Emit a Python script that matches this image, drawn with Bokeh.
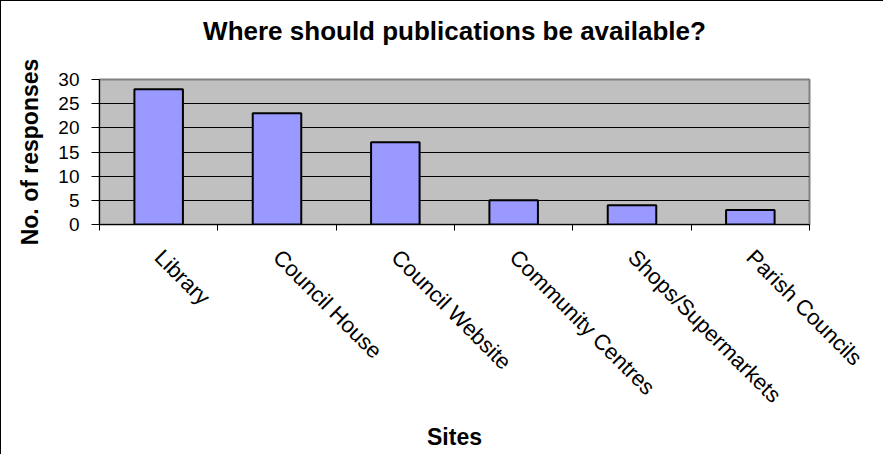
import math
from bokeh.plotting import figure
from bokeh.models import Range1d, FixedTicker, LinearAxis
from bokeh.embed import file_html
from bokeh.resources import INLINE

# ---- data ----
sites = ["Library", "Council House", "Council Website", "Community Centres",
         "Shops/Supermarkets", "Parish Councils"]
responses = [28, 23, 17, 5, 4, 3]
y_ticks = [0, 5, 10, 15, 20, 25, 30]
title_text = "Where should publications be available?"

positions = [i + 0.5 for i in range(len(sites))]
boundaries = list(range(len(sites) + 1))

FONT = "Liberation Sans"

p = figure(width=883, height=454, output_backend="svg", toolbar_location=None,
           x_range=Range1d(0, len(sites)), y_range=Range1d(0, 30),
           min_border_left=98, min_border_top=78, min_border_right=75,
           min_border_bottom=231,
           styles={"border-left": "1px solid #000000", "border-top": "1px solid #000000"})

p.background_fill_color = "#C0C0C0"
p.border_fill_color = "#FFFFFF"
p.outline_line_color = "#808080"
p.outline_line_width = 2

p.vbar(x=positions, top=responses, width=0.41, fill_color="#9999FF",
       line_color="#000000", line_width=2)

xa = p.below[0]
ya = p.left[0]

# chart title, drawn as the label of a bare axis above the plot area
ta = LinearAxis(ticker=FixedTicker(ticks=[]), axis_label=title_text)
ta.axis_line_color = None
ta.major_tick_line_color = None
ta.minor_tick_line_color = None
ta.major_tick_out = 0
ta.major_tick_in = 0
ta.major_label_standoff = 0
ta.axis_label_text_font = FONT
ta.axis_label_text_font_size = "26px"
ta.axis_label_text_font_style = "bold"
ta.axis_label_text_color = "#000000"
ta.axis_label_standoff = 34
p.add_layout(ta, "above")

# y axis
ya.ticker = FixedTicker(ticks=y_ticks)
ya.axis_line_color = "#000000"
ya.major_tick_line_color = "#000000"
ya.major_tick_out = 8
ya.major_tick_in = 0
ya.minor_tick_line_color = None
ya.major_label_text_font = FONT
ya.major_label_text_font_size = "19px"
ya.major_label_text_color = "#000000"
ya.major_label_standoff = 12
ya.axis_label = "No. of responses"
ya.axis_label_text_font = FONT
ya.axis_label_text_font_size = "23px"
ya.axis_label_text_font_style = "bold"
ya.axis_label_text_color = "#000000"
ya.axis_label_standoff = 12

p.ygrid.ticker = FixedTicker(ticks=y_ticks)
p.ygrid.grid_line_color = "#000000"
p.ygrid.grid_line_width = 1
p.xgrid.grid_line_color = None

# x axis: labels at category centres, tick marks at category boundaries
xa.ticker = FixedTicker(ticks=positions, minor_ticks=boundaries)
xa.major_label_overrides = {pos: name for pos, name in zip(positions, sites)}
xa.axis_line_color = "#000000"
xa.axis_line_width = 1
xa.major_tick_line_color = None
xa.major_tick_out = 0
xa.major_tick_in = 0
xa.minor_tick_line_color = "#000000"
xa.minor_tick_out = 6
xa.minor_tick_in = 0
xa.major_label_orientation = -math.pi / 4
xa.major_label_text_font = FONT
xa.major_label_text_font_size = "22px"
xa.major_label_text_color = "#000000"
xa.major_label_standoff = 23
xa.axis_label = "Sites"
xa.axis_label_text_font = FONT
xa.axis_label_text_font_size = "23px"
xa.axis_label_text_font_style = "bold"
xa.axis_label_text_color = "#000000"
xa.axis_label_standoff = 5

open("out.html", "w").write(file_html(p, INLINE))
